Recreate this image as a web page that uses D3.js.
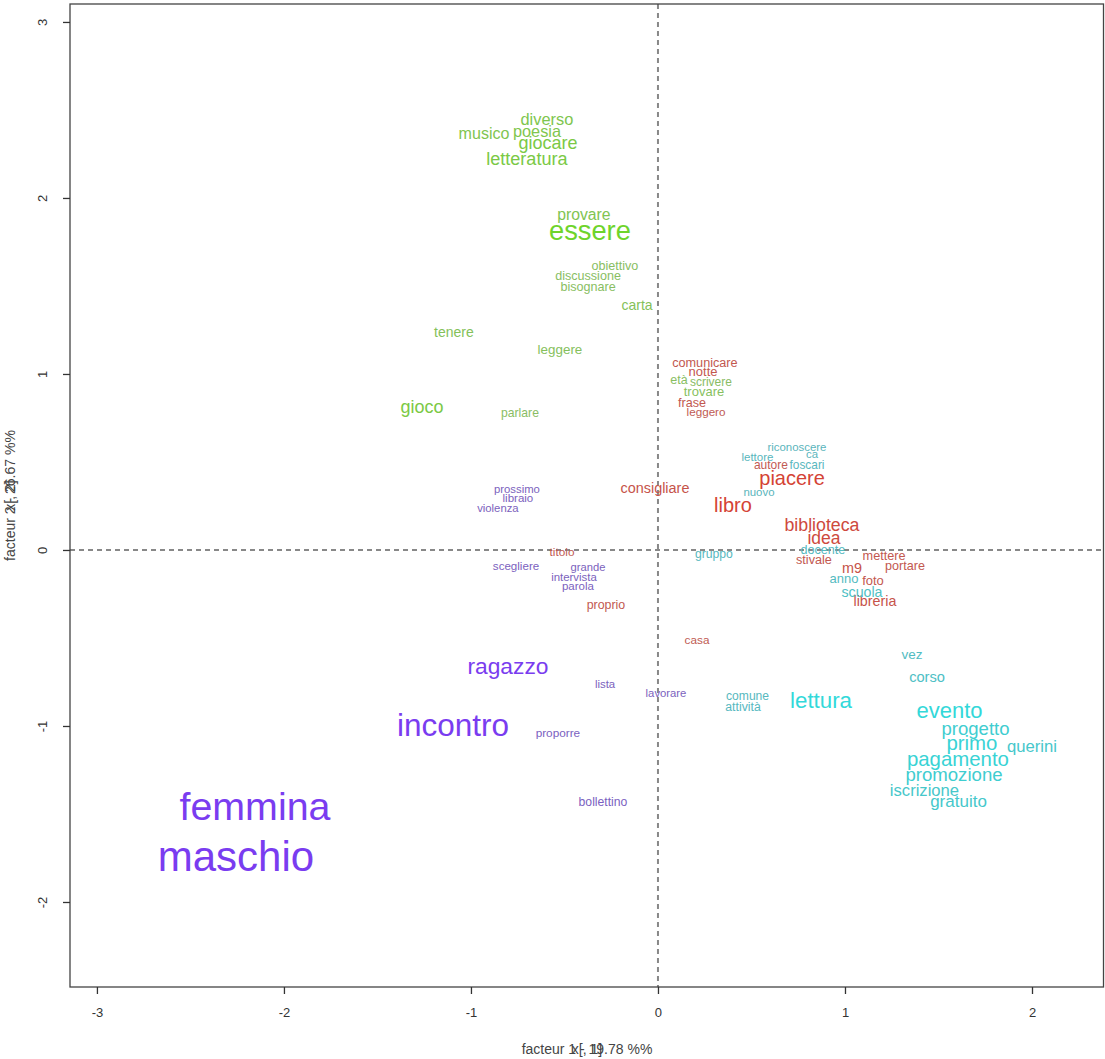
<!DOCTYPE html>
<html>
<head>
<meta charset="utf-8">
<script src="https://cdn.jsdelivr.net/npm/d3@7"></script>
<style>
  body { margin: 0; background: #fff; }
  svg { display: block; font-family: "Liberation Sans", Arial, sans-serif; }
</style>
</head>
<body>
<svg id="chart" width="1105" height="1059"></svg>
<script>
//
// data: words, class, coordinates on factor 1 / factor 2, chi2 weight
//
var words = [
  "diverso", "musico", "poesia", "giocare", "letteratura", "provare", "essere",
  "obiettivo", "discussione", "bisognare", "carta", "tenere", "leggere", "gioco",
  "parlare", "età", "scrivere", "trovare",
  "comunicare", "notte", "frase", "leggero", "consigliare", "libro", "piacere",
  "autore", "biblioteca", "idea", "stivale", "m9", "mettere", "portare", "foto",
  "libreria", "titolo", "proprio", "casa",
  "riconoscere", "ca", "lettore", "foscari", "nuovo", "docente", "gruppo", "anno",
  "scuola", "vez", "corso", "comune", "attività", "lettura", "evento", "progetto",
  "primo", "querini", "pagamento", "promozione", "iscrizione", "gratuito",
  "prossimo", "libraio", "violenza", "scegliere", "grande", "intervista", "parola",
  "ragazzo", "lista", "lavorare", "incontro", "proporre", "bollettino", "femmina",
  "maschio"
];

var classes = [
  "g", "g", "g", "g", "g", "g", "g",
  "g", "g", "g", "g", "g", "g", "g",
  "g", "g", "g", "g",
  "r", "r", "r", "r", "r", "r", "r",
  "r", "r", "r", "r", "r", "r", "r", "r",
  "r", "r", "r", "r",
  "c", "c", "c", "c", "c", "c", "c", "c",
  "c", "c", "c", "c", "c", "c", "c", "c",
  "c", "c", "c", "c", "c", "c",
  "p", "p", "p", "p", "p", "p", "p",
  "p", "p", "p", "p", "p", "p", "p",
  "p"
];

var factor1 = [
  -0.594, -0.930, -0.647, -0.588, -0.701, -0.396, -0.364,
  -0.230, -0.374, -0.374, -0.112, -1.091, -0.524, -1.262,
  -0.738, 0.112, 0.283, 0.246,
  0.251, 0.241, 0.182, 0.257, -0.016, 0.401, 0.717,
  0.604, 0.877, 0.888, 0.834, 1.037, 1.209, 1.321, 1.150,
  1.160, -0.513, -0.278, 0.209,
  0.743, 0.824, 0.532, 0.797, 0.540, 0.882, 0.299, 0.995,
  1.091, 1.358, 1.439, 0.479, 0.455, 0.872, 1.559, 1.698,
  1.679, 2.000, 1.604, 1.583, 1.425, 1.607,
  -0.754, -0.749, -0.856, -0.759, -0.374, -0.449, -0.428,
  -0.802, -0.283, 0.043, -1.096, -0.535, -0.294, -2.155,
  -2.257
];

var factor2 = [
  2.438, 2.358, 2.369, 2.307, 2.216, 1.898, 1.801,
  1.608, 1.551, 1.489, 1.386, 1.233, 1.136, 0.807,
  0.773, 0.960, 0.949, 0.892,
  1.057, 1.006, 0.830, 0.778, 0.347, 0.244, 0.398,
  0.477, 0.136, 0.057, -0.063, -0.108, -0.040, -0.097, -0.182,
  -0.295, -0.017, -0.318, -0.517,
  0.580, 0.540, 0.523, 0.477, 0.324, -0.006, -0.028, -0.170,
  -0.244, -0.602, -0.727, -0.835, -0.898, -0.864, -0.920, -1.023,
  -1.108, -1.125, -1.199, -1.284, -1.375, -1.438,
  0.341, 0.290, 0.233, -0.097, -0.102, -0.159, -0.210,
  -0.670, -0.767, -0.818, -1.011, -1.045, -1.438, -1.477,
  -1.761
];

var chi2 = [
  25.7, 24.8, 25.4, 30.3, 30.6, 23.9, 57.3,
  14.6, 14.6, 14.6, 18.7, 18.7, 17.0, 30.3,
  13.5, 14.4, 12.9, 15.8,
  14.9, 15.8, 14.6, 12.0, 19.9, 36.1, 36.1,
  12.9, 29.7, 28.9, 14.9, 19.9, 14.9, 14.6, 15.8,
  19.6, 12.3, 14.1, 12.3,
  11.2, 11.2, 11.5, 12.6, 11.2, 14.6, 13.5, 15.8,
  19.3, 17.3, 20.7, 13.2, 13.8, 42.8, 41.9, 31.8,
  37.3, 26.5, 37.3, 32.1, 26.3, 27.4,
  10.9, 11.5, 10.9, 11.7, 10.6, 11.2, 11.5,
  44.3, 11.2, 10.9, 69.5, 12.3, 13.5, 92.4,
  100
];

var xTicks = [-3, -2, -1, 0, 1, 2];
var yTicks = [-2, -1, 0, 1, 2, 3];

var xTitle = "facteur  1 - 19.78 %%";
var yTitle = "facteur  2 - 26.67 %%";
var xDefault = "x[, 1]";
var yDefault = "x[, 2]";

// class colours: dull for small words, vivid for big ones
var classColors = {
  g: ["#8bbb68", "#6ed42b"],
  r: ["#bf5c55", "#db3a2a"],
  c: ["#5ab5bc", "#2fdcdc"],
  p: ["#7b62bd", "#7a3cf0"]
};

//
// setup
//
var width = 1105, height = 1059;
var margin = { top: 4, right: 1, bottom: 72, left: 70 };

var svg = d3.select("#chart");

var x = d3.scaleLinear()
  .domain([-3.144, 2.385])
  .range([margin.left, width - margin.right]);

var y = d3.scaleLinear()
  .domain([-2.483, 3.102])
  .range([height - margin.bottom, margin.top]);

var fontSize = d3.scaleLinear().domain([10, 100]).range([11, 42]);
var colorT = d3.scaleLinear().domain([11, 45]).range([0, 1]).clamp(true);

// plain hyphen minus, like R draws it
var tickFmt = function (d) { return String(d); };

var rows = words.map(function (w, i) {
  return { word: w, cls: classes[i], f1: factor1[i], f2: factor2[i], chi: chi2[i] };
});

//
// dashed zero lines
//
svg.append("line")
  .attr("x1", x.range()[0]).attr("x2", x.range()[1])
  .attr("y1", y(0)).attr("y2", y(0))
  .attr("stroke", "#888").attr("stroke-width", 2)
  .attr("stroke-dasharray", "5,4");

svg.append("line")
  .attr("x1", x(0)).attr("x2", x(0))
  .attr("y1", y.range()[1]).attr("y2", y.range()[0])
  .attr("stroke", "#888").attr("stroke-width", 2)
  .attr("stroke-dasharray", "5,4");

//
// words
//
svg.append("g").selectAll("text")
  .data(rows)
  .enter().append("text")
  .attr("x", function (d) { return x(d.f1); })
  .attr("y", function (d) { return y(d.f2); })
  .attr("dy", "0.26em")
  .attr("text-anchor", "middle")
  .style("font-size", function (d) { return fontSize(d.chi) + "px"; })
  .style("fill", function (d) {
    var c = classColors[d.cls];
    return d3.interpolateRgb(c[0], c[1])(colorT(d.chi));
  })
  .text(function (d) { return d.word; });

//
// box and axes
//
svg.append("rect")
  .attr("x", margin.left).attr("y", margin.top)
  .attr("width", width - margin.left - margin.right - 0.5)
  .attr("height", height - margin.top - margin.bottom)
  .attr("fill", "none").attr("stroke", "#444").attr("stroke-width", 1.3);

var xAxis = svg.append("g")
  .attr("transform", "translate(0," + (height - margin.bottom) + ")")
  .call(d3.axisBottom(x).tickValues(xTicks).tickSize(7).tickPadding(14)
    .tickFormat(tickFmt));
xAxis.select(".domain").remove();
xAxis.selectAll("line").attr("stroke", "#333").attr("stroke-width", 1.3);
xAxis.selectAll("text").attr("fill", "#333").style("font-size", "13px")
  .style("font-family", "Liberation Sans, Arial, sans-serif");

var yAxis = svg.append("g")
  .attr("transform", "translate(" + margin.left + ",0)")
  .call(d3.axisLeft(y).tickValues(yTicks).tickSize(7).tickPadding(0)
    .tickFormat(tickFmt));
yAxis.select(".domain").remove();
yAxis.selectAll("line").attr("stroke", "#333").attr("stroke-width", 1.3);
yAxis.selectAll("text")
  .attr("x", null)
  .attr("text-anchor", "middle")
  .attr("transform", "translate(-28,0) rotate(-90)")
  .attr("dy", "0.35em")
  .attr("fill", "#333").style("font-size", "13px")
  .style("font-family", "Liberation Sans, Arial, sans-serif");

//
// axis titles (custom label drawn over the default one)
//
var xMid = (x.range()[0] + x.range()[1]) / 2;
var yMid = (y.range()[0] + y.range()[1]) / 2;

[xTitle, xDefault].forEach(function (t) {
  svg.append("text")
    .attr("x", xMid).attr("y", 1054)
    .attr("text-anchor", "middle")
    .style("font-size", "14px").style("fill", "#444")
    .text(t);
});

[yTitle, yDefault].forEach(function (t) {
  svg.append("text")
    .attr("transform", "translate(15," + yMid + ") rotate(-90)")
    .attr("text-anchor", "middle")
    .style("font-size", "14px").style("fill", "#444")
    .text(t);
});
</script>
</body>
</html>
